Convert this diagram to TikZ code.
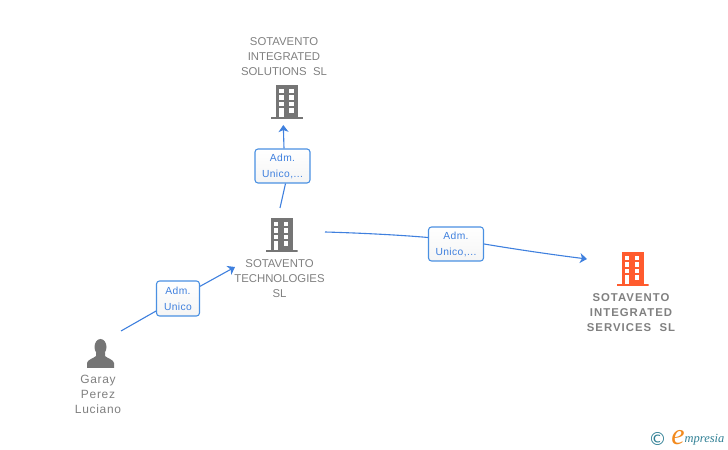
\documentclass[tikz,border=0pt]{standalone}
\usepackage{fontspec}
\setmainfont{Liberation Sans}
\newfontfamily\logofont{Liberation Serif}
\newfontfamily\symfont{DejaVu Sans}
\usetikzlibrary{arrows.meta}
\definecolor{icongray}{HTML}{757575}
\definecolor{textgray}{HTML}{808080}
\definecolor{linkblue}{HTML}{3F80DE}
\definecolor{boxblue}{HTML}{4A90E2}
\definecolor{iconorange}{HTML}{FF5B2E}
\definecolor{logoteal}{HTML}{2F7F94}
\definecolor{logoorange}{HTML}{F28A1E}
\tikzset{
  iconbox/.style={inner sep=0pt,minimum width=32bp,minimum height=34bp},
  building/.style={iconbox,path picture={
    \fill[#1] (-11bp,-15bp) rectangle (11bp,17bp);
    \fill[#1] (-16bp,-17bp) rectangle (16bp,-15bp);
    \foreach \ypos in {13,6.5,0}{
      \fill[white] (-8bp,\ypos bp) rectangle (-3.2bp,\ypos bp-4.4bp);
      \fill[white] (2bp,\ypos bp) rectangle (6.8bp,\ypos bp-4.4bp);
    }
    \fill[white] (-8bp,-6.5bp) rectangle (-3.2bp,-15bp);
    \fill[white] (2bp,-6.5bp) rectangle (6.8bp,-10.8bp);
  }},
  person/.style={iconbox,minimum width=28bp,minimum height=29bp,path picture={
    \fill[icongray] (0bp,6.5bp) ellipse (6bp and 8bp);
    \fill[icongray] (-13.5bp,-14.5bp) -- (-13.5bp,-9.5bp)
      .. controls (-13bp,-6bp) and (-7bp,-5bp) .. (-4.5bp,-2.5bp)
      -- (-4.5bp,1bp) -- (4.5bp,1bp) -- (4.5bp,-2.5bp)
      .. controls (7bp,-5bp) and (13bp,-6bp) .. (13.5bp,-9.5bp)
      -- (13.5bp,-14.5bp) -- cycle;
  }},
  caption/.style={align=center,inner sep=0pt,text=textgray,
    font=\fontsize{11.4}{15}\selectfont},
  boldcaption/.style={caption,
    font=\fontsize{11.4}{15}\selectfont\bfseries\addfontfeature{LetterSpace=9}},
  namecaption/.style={caption,
    font=\fontsize{12}{15}\selectfont\addfontfeature{LetterSpace=6}},
  relbox/.style={draw=boxblue,line width=1.1bp,rounded corners=3bp,
    top color=white,bottom color=black!4,
    align=center,inner sep=0pt,text=linkblue,
    font=\fontsize{10.3}{16}\selectfont\addfontfeature{LetterSpace=4}},
  link/.style={linkblue,line width=1.1bp},
}
\begin{document}
\begin{tikzpicture}[>={Stealth[length=7bp,width=10bp,inset=2bp]},line join=bevel,x=1bp,y=1bp]
\useasboundingbox (0,0) rectangle (728,450);
%%
\node (node_solutions) at (287,348) [building=icongray] {};
\node (text_solutions) at (284,393.5) [caption] {SOTAVENTO\\INTEGRATED\\SOLUTIONS\ \ SL};
\node (node_tech) at (281.5,215) [building=icongray] {};
\node (text_tech) at (279.5,171.5) [caption] {SOTAVENTO\\TECHNOLOGIES\\SL};
\node (node_services) at (632.5,181) [building=iconorange] {};
\node (text_services) at (631,137.5) [boldcaption] {SOTAVENTO\\INTEGRATED\\SERVICES\ \ SL};
\node (node_garay) at (100.5,96.5) [person] {};
\node (text_garay) at (98,55.5) [namecaption] {Garay\\Perez\\Luciano};
%%
\node (adm_solutions) at (282.5,284) [relbox,minimum width=55bp,minimum height=34bp] {Adm.\ \\Unico,...};
\node (adm_services) at (456,206) [relbox,minimum width=55bp,minimum height=34bp] {Adm.\ \\Unico,...};
\node (adm_garay) at (178,151.5) [relbox,minimum width=43bp,minimum height=35bp] {Adm.\ \\Unico};
%%
\coordinate (garay_out) at (121,119);
\coordinate (tech_in) at (235,183);
\coordinate (tech_up) at (280,242);
\coordinate (solutions_in) at (283.3,325);
\coordinate (tech_out) at (325,218);
\coordinate (services_in) at (587,191);
%%
\draw [link] (garay_out) -- (adm_garay);
\draw [link,->] (adm_garay) -- (tech_in);
\draw [link] (tech_up) -- ([xshift=3bp]adm_solutions.south);
\draw [link,->] ([xshift=1.5bp]adm_solutions.north) -- (solutions_in);
\draw [link] (tech_out) ..controls (360,217) and (400,215) .. ([yshift=6.5bp]adm_services.west);
\draw [link,->] (adm_services.east) ..controls (520,200) and (555,195) .. (services_in);
%%
\node (logo_c) at (657.5,11) [text=logoteal,inner sep=0pt,font=\symfont\fontsize{18}{18}\selectfont] {©};
\node (logo_e) at (678,12.5) [text=logoorange,inner sep=0pt,font=\logofont\itshape\fontsize{30}{30}\selectfont] {e};
\node (logo_rest) at (704.5,10.5) [text=logoteal,inner sep=0pt,font=\logofont\itshape\fontsize{12.5}{12.5}\selectfont] {mpresia};
%
\end{tikzpicture}
\end{document}
